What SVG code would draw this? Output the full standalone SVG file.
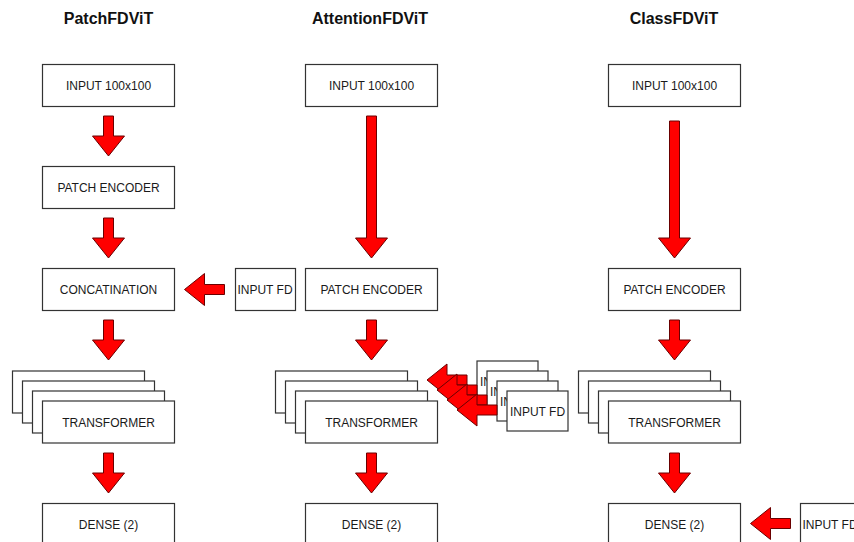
<svg xmlns="http://www.w3.org/2000/svg" width="854" height="542" viewBox="0 0 854 542">
<style>
.box{fill:#fff;stroke:#333;stroke-width:1.2}
.lbl{font-family:"Liberation Sans",Arial,sans-serif;font-size:12px;fill:#1a1a1a;text-anchor:middle}
.ttl{font-family:"Liberation Sans",Arial,sans-serif;font-size:16px;font-weight:bold;fill:#111;text-anchor:middle}
.arr{fill:#ff0000;stroke:#6a0000;stroke-width:1;stroke-linejoin:miter}
</style>
<rect width="854" height="542" fill="#fff"/>
<g id="titles">
<text class="ttl" x="108.5" y="23.5">PatchFDViT</text>
<text class="ttl" x="370" y="23.5">AttentionFDViT</text>
<text class="ttl" x="674" y="23.5">ClassFDViT</text>
</g>
<!-- Left column -->
<g id="p_input"><rect class="box" x="42.5" y="64.5" width="132" height="42"/><text class="lbl" x="108.5" y="89.5">INPUT 100x100</text></g>
<g id="p_patch"><rect class="box" x="42.5" y="166.5" width="132" height="42"/><text class="lbl" x="108.5" y="191.5">PATCH ENCODER</text></g>
<g id="p_concat"><rect class="box" x="42.5" y="268.5" width="132" height="42"/><text class="lbl" x="108.5" y="293.5">CONCATINATION</text></g>
<g id="p_fd"><rect class="box" x="235.5" y="268.5" width="60" height="42"/><text class="lbl" x="265" y="293.5">INPUT FD</text></g>
<g id="p_trans">
<rect class="box" x="12.5" y="371" width="132" height="42"/>
<rect class="box" x="22.5" y="381" width="132" height="42"/>
<rect class="box" x="32.5" y="391" width="132" height="42"/>
<rect class="box" x="42.5" y="401" width="132" height="42"/>
<text class="lbl" x="108.5" y="426.5">TRANSFORMER</text>
</g>
<g id="p_dense"><rect class="box" x="42.5" y="503.5" width="132" height="42"/><text class="lbl" x="108.5" y="528.5">DENSE (2)</text></g>
<!-- Middle column -->
<g id="a_input"><rect class="box" x="305.5" y="64.5" width="132" height="42"/><text class="lbl" x="371.5" y="89.5">INPUT 100x100</text></g>
<g id="a_patch"><rect class="box" x="305.5" y="268.5" width="132" height="42"/><text class="lbl" x="371.5" y="293.5">PATCH ENCODER</text></g>
<g id="a_trans">
<rect class="box" x="275.5" y="371" width="132" height="42"/>
<rect class="box" x="285.5" y="381" width="132" height="42"/>
<rect class="box" x="295.5" y="391" width="132" height="42"/>
<rect class="box" x="305.5" y="401" width="132" height="42"/>
<text class="lbl" x="371.5" y="426.5">TRANSFORMER</text>
</g>
<g id="a_dense"><rect class="box" x="305.5" y="503.5" width="132" height="42"/><text class="lbl" x="371.5" y="528.5">DENSE (2)</text></g>
<g id="a_fd1"><rect class="box" x="477" y="361" width="61" height="40"/><text class="lbl" x="507.5" y="385.5">INPUT FD</text></g>
<g id="a_fd2"><rect class="box" x="487" y="371" width="61" height="40"/><text class="lbl" x="517.5" y="395.5">INPUT FD</text></g>
<g id="a_fd3"><rect class="box" x="497" y="381" width="61" height="40"/><text class="lbl" x="527.5" y="405.5">INPUT FD</text></g>
<g id="a_fd4"><rect class="box" x="507" y="391" width="61" height="40"/><text class="lbl" x="537.5" y="415.5">INPUT FD</text></g>
<!-- Right column -->
<g id="c_input"><rect class="box" x="608.5" y="64.5" width="132" height="42"/><text class="lbl" x="674.5" y="89.5">INPUT 100x100</text></g>
<g id="c_patch"><rect class="box" x="608.5" y="268.5" width="132" height="42"/><text class="lbl" x="674.5" y="293.5">PATCH ENCODER</text></g>
<g id="c_trans">
<rect class="box" x="578.5" y="371" width="132" height="42"/>
<rect class="box" x="588.5" y="381" width="132" height="42"/>
<rect class="box" x="598.5" y="391" width="132" height="42"/>
<rect class="box" x="608.5" y="401" width="132" height="42"/>
<text class="lbl" x="674.5" y="426.5">TRANSFORMER</text>
</g>
<g id="c_dense"><rect class="box" x="608.5" y="503.5" width="132" height="42"/><text class="lbl" x="674.5" y="528.5">DENSE (2)</text></g>
<g id="c_fd"><rect class="box" x="800.5" y="503.5" width="60" height="42"/><text class="lbl" x="830" y="528.5">INPUT FD</text></g>
<!-- Connectors -->
<g id="connectors">
<!-- left column down arrows -->
<polygon class="arr" points="103.5,116 113.5,116 113.5,136 124.5,136 108.5,156 92.5,136 103.5,136"/>
<polygon class="arr" points="103.5,218 113.5,218 113.5,238 124.5,238 108.5,258 92.5,238 103.5,238"/>
<polygon class="arr" points="103.5,320 113.5,320 113.5,340 124.5,340 108.5,360 92.5,340 103.5,340"/>
<polygon class="arr" points="103.5,453 113.5,453 113.5,473 124.5,473 108.5,493 92.5,473 103.5,473"/>
<polygon class="arr" points="184.5,289.5 204.5,273.5 204.5,284.5 224.5,284.5 224.5,294.5 204.5,294.5 204.5,305.5"/>
<!-- middle column -->
<polygon class="arr" points="366.5,116 376.5,116 376.5,238 387.5,238 371.5,258 355.5,238 366.5,238"/>
<polygon class="arr" points="366.5,320 376.5,320 376.5,340 387.5,340 371.5,360 355.5,340 366.5,340"/>
<polygon class="arr" points="366.5,453 376.5,453 376.5,473 387.5,473 371.5,493 355.5,473 366.5,473"/>
<polygon class="arr" points="427,380 447,364 447,375 467,375 467,385 447,385 447,396"/>
<polygon class="arr" points="437,390 457,374 457,385 477,385 477,395 457,395 457,406"/>
<polygon class="arr" points="447,400 467,384 467,395 487,395 487,405 467,405 467,416"/>
<polygon class="arr" points="457,410 477,394 477,405 497,405 497,415 477,415 477,426"/>
<!-- right column -->
<polygon class="arr" points="669.5,121 679.5,121 679.5,238 690.5,238 674.5,258 658.5,238 669.5,238"/>
<polygon class="arr" points="669.5,320 679.5,320 679.5,340 690.5,340 674.5,360 658.5,340 669.5,340"/>
<polygon class="arr" points="669.5,453 679.5,453 679.5,473 690.5,473 674.5,493 658.5,473 669.5,473"/>
<polygon class="arr" points="750.5,523.5 770.5,507.5 770.5,518.5 790.5,518.5 790.5,528.5 770.5,528.5 770.5,539.5"/>
</g>
</svg>
